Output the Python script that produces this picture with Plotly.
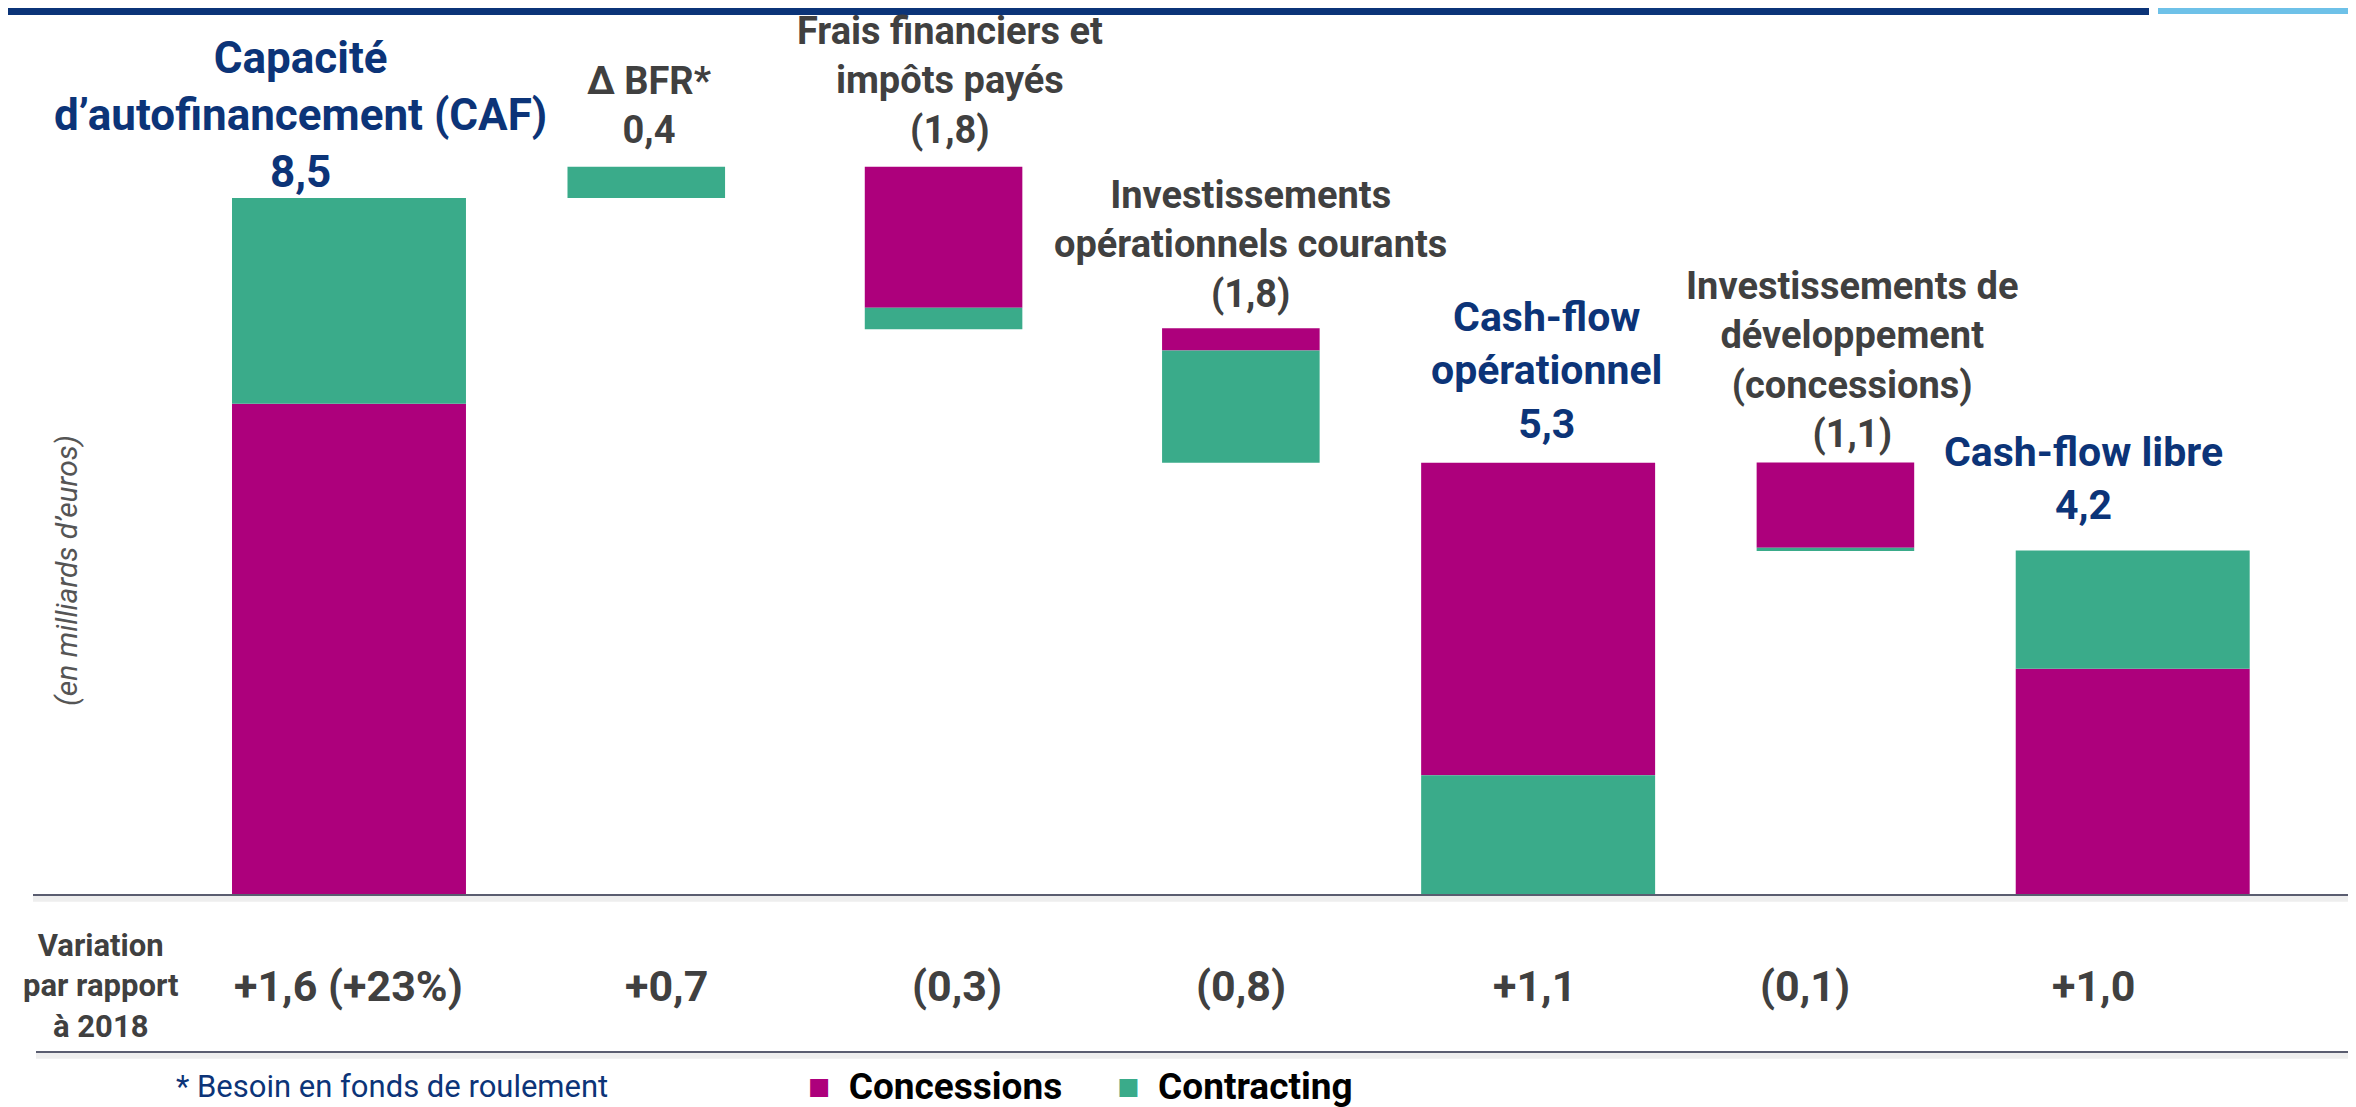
import plotly.graph_objects as go

# Données (en milliards d'euros)
etapes = ["CAF", "Delta BFR", "Frais financiers", "Invest. courants",
          "Cash-flow opérationnel", "Invest. développement", "Cash-flow libre"]
libelles = ["Capacité<br>d’autofinancement (CAF)", "Δ BFR*",
            "Frais financiers et<br>impôts payés",
            "Investissements<br>opérationnels courants",
            "Cash-flow<br>opérationnel",
            "Investissements de<br>développement<br>(concessions)",
            "Cash-flow libre"]
montants = ["8,5", "0,4", "(1,8)", "(1,8)", "5,3", "(1,1)", "4,2"]
variations = ["+1,6 (+23%)", "+0,7", "(0,3)", "(0,8)", "+1,1", "(0,1)", "+1,0"]
est_total = [True, False, False, False, True, False, True]

niveau_bas = [0.0, 8.5, 6.9, 5.27, 0.0, 4.195, 0.0]
concessions = [5.99, 0.0, 1.72, 0.27, 3.81, 1.04, 2.76]
contracting = [2.51, 0.38, 0.26, 1.37, 1.46, 0.04, 1.44]
segment_bas = ["Concessions", "Contracting", "Contracting", "Contracting",
               "Contracting", "Contracting", "Concessions"]

# 🎨 Couleurs
MAGENTA = "#ad007c"
VERT = "#3aab8a"
BLEU = "#0c3478"
GRIS = "#404040"
FONT = "Roboto, sans-serif"
W, H = 2356, 1107


def px(x):
    # position horizontale en fraction de la figure (la page ajoute 8 px de marge)
    return (x - 8) / W


# 📐 Bases des segments
base_conc, base_contr, sommets = [], [], []
for b, c, k, s in zip(niveau_bas, concessions, contracting, segment_bas):
    if s == "Concessions":
        base_conc.append(b)
        base_contr.append(b + c)
    else:
        base_contr.append(b)
        base_conc.append(b + k)
    sommets.append(b + c + k)

largeurs = [0.787 if t else 0.53 for t in est_total]

fig = go.Figure()
fig.add_trace(go.Bar(x=etapes, y=concessions, base=base_conc, width=largeurs,
                     name="Concessions", marker=dict(color=MAGENTA, line_width=0)))
fig.add_trace(go.Bar(x=etapes, y=contracting, base=base_contr, width=largeurs,
                     name="Contracting", marker=dict(color=VERT, line_width=0)))

# 🏷️ Libellés au-dessus des barres
decal_x = [-48, 3, 6, 10, 8, 17, -49]
decal_y = [-2, 13, 13, 10, 13, 4, 20]
decal_var = [0, 20, 13, 0, -4, -30, -39]
for i, etape in enumerate(etapes):
    total = est_total[i]
    taille = 44 if i == 0 else (41 if total else 38)
    fig.add_annotation(
        x=etape, y=sommets[i], xref="x", yref="y",
        text=f"<b>{libelles[i]}<br>{montants[i]}</b>",
        showarrow=False, yanchor="bottom", xshift=decal_x[i], yshift=decal_y[i],
        font=dict(family=FONT, size=taille, color=BLEU if total else GRIS),
    )
    fig.add_annotation(
        x=etape, y=-1.11, xref="x", yref="y", xshift=decal_var[i],
        text=f"<b>{variations[i]}</b>", showarrow=False,
        font=dict(family=FONT, size=43, color=GRIS),
    )

fig.add_annotation(x=px(101), y=-1.11, xref="paper", yref="y", xanchor="center",
                   text="<b>Variation<br>par rapport<br>à 2018</b>", showarrow=False,
                   font=dict(family=FONT, size=31, color=GRIS))

fig.add_annotation(x=px(66), y=3.95, xref="paper", yref="y", xanchor="center",
                   textangle=-90, text="<i>(en milliards d’euros)</i>", showarrow=False,
                   font=dict(family=FONT, size=30, color="#555555"))

fig.add_annotation(x=px(392), y=-2.33, xref="paper", yref="y", xanchor="center",
                   text="* Besoin en fonds de roulement", showarrow=False,
                   font=dict(family=FONT, size=31, color=BLEU))

fig.add_annotation(x=px(806), y=-2.33, xref="paper", yref="y", xanchor="left",
                   text=f"<span style='color:{MAGENTA}'>■</span>&nbsp;&nbsp;<b>Concessions</b>"
                        f"&nbsp;&nbsp;&nbsp;&nbsp;&nbsp;&nbsp;<span style='color:{VERT}'>■</span>"
                        f"&nbsp;&nbsp;<b>Contracting</b>",
                   showarrow=False, font=dict(family=FONT, size=37, color="black"))

# 📏 Lignes et bandeau
fig.add_shape(type="line", xref="paper", yref="y", x0=px(33), x1=1, y0=-0.045, y1=-0.045,
              line=dict(color="#eeeeee", width=6))
fig.add_shape(type="line", xref="paper", yref="y", x0=px(33), x1=1, y0=0, y1=0,
              line=dict(color="#5a5d70", width=2))
fig.add_shape(type="line", xref="paper", yref="y", x0=px(36), x1=1, y0=-1.96, y1=-1.96,
              line=dict(color="#eeeeee", width=6))
fig.add_shape(type="line", xref="paper", yref="y", x0=px(36), x1=1, y0=-1.915, y1=-1.915,
              line=dict(color="#5a5d70", width=2))
fig.add_shape(type="rect", xref="paper", yref="paper", x0=0, x1=px(2149),
              y0=1 - 7 / H, y1=1, line_width=0, fillcolor="#0b3478")
fig.add_shape(type="rect", xref="paper", yref="paper", x0=px(2158), x1=1,
              y0=1 - 6 / H, y1=1, line_width=0, fillcolor="#6ec1e8")

fig.update_layout(
    width=W, height=H,
    barmode="overlay", showlegend=False,
    plot_bgcolor="white", paper_bgcolor="white",
    margin=dict(l=0, r=0, t=0, b=0),
    xaxis=dict(range=[-1.147, 6.778], visible=False),
    yaxis=dict(range=[-2.683, 10.817], visible=False),
    font=dict(family=FONT),
)

fig.write_html("out.html")
